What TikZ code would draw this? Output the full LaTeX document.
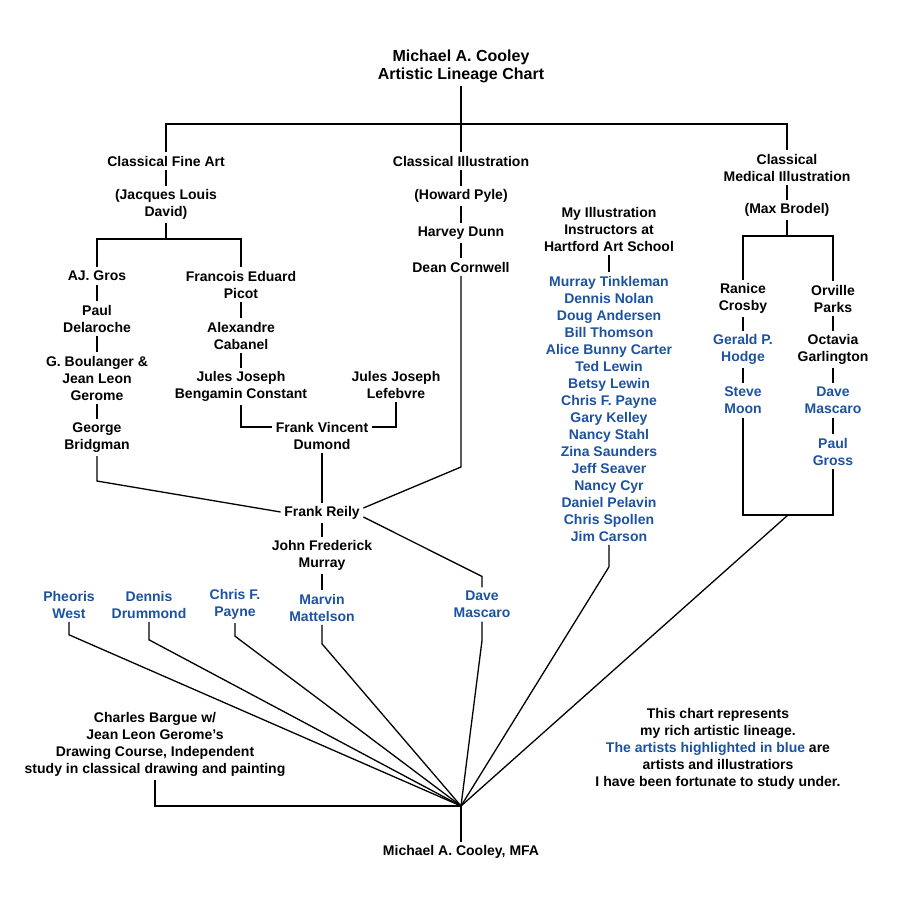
\documentclass[tikz,border=0pt]{standalone}
\usepackage{fontspec}
\setmainfont{Liberation Sans}
\definecolor{lineageblue}{RGB}{28,82,160}
\begin{document}
\begin{tikzpicture}[x=1pt,y=-1pt,line width=1.3pt,
  every node/.style={font=\fontsize{14}{17}\selectfont\bfseries,align=center,inner sep=3pt},
  taught/.style={text=lineageblue}]
  \useasboundingbox (0,0) rectangle (900,900);
  % title and the three branches
  \node[font=\fontsize{16}{18}\selectfont\bfseries] (title) at (461,66) {Michael A. Cooley\\Artistic Lineage Chart};
  \node (cfa) at (166,161) {Classical Fine Art};
  \node (ci) at (461,161) {Classical Illustration};
  \node (cmi) at (787,167.5) {Classical\\Medical Illustration};
  \coordinate (top) at (461,124);
  \draw (title) -- (ci);
  \draw (cfa.north) |- (top) -| (cmi.north);
  % fine art
  \node (jld) at (166,204.5) {(Jacques Louis\\David)};
  \node (gros) at (97,276) {AJ. Gros};
  \node (picot) at (241,284.5) {Francois Eduard\\Picot};
  \node (delaroche) at (97,318.5) {Paul\\Delaroche};
  \node (cabanel) at (241,335.5) {Alexandre\\Cabanel};
  \node (boul) at (97,378) {G. Boulanger \&\\Jean Leon\\Gerome};
  \node (bc) at (241,386.5) {Jules Joseph\\Bengamin Constant};
  \node (bridg) at (97,437.5) {George\\Bridgman};
  \node (lef) at (396,384.5) {Jules Joseph\\Lefebvre};
  \node (fvd) at (322,435.5) {Frank Vincent\\Dumond};
  \coordinate (jldfork) at (166,239);
  \draw (cfa) -- (jld);
  \draw (jld) -- (jldfork);
  \draw (gros.north) |- (jldfork) -| (picot.north);
  \draw (gros) -- (delaroche);
  \draw (delaroche) -- (boul);
  \draw (boul) -- (bridg);
  \draw (picot) -- (cabanel);
  \draw (cabanel) -- (bc);
  \draw (bc.south) |- ([yshift=8.5pt]fvd.west);
  \draw ([yshift=8.5pt]fvd.east) -| (lef.south);
  % illustration
  \node (hp) at (461,196) {(Howard Pyle)};
  \node (hd) at (461,233) {Harvey Dunn};
  \node (dean) at (461,267) {Dean Cornwell};
  \draw (ci) -- (hp);
  \draw (hp) -- (hd);
  \draw (hd) -- (dean);
  % Frank Reily and his students
  \node (reily) at (322,513) {Frank Reily};
  \node (jfm) at (322,555.5) {John Frederick\\Murray};
  \node[taught] (mm) at (322,607.5) {Marvin\\Mattelson};
  \node[taught] (pw) at (69,604.5) {Pheoris\\West};
  \node[taught] (dd) at (149,604.5) {Dennis\\Drummond};
  \node[taught] (cfp) at (235,604.5) {Chris F.\\Payne};
  \node[taught] (dmasc) at (482,604.5) {Dave\\Mascaro};
  \draw (fvd) -- (reily);
  \draw (bridg.south) -- ++(0,25) -- ([yshift=1pt]reily.west);
  \draw (dean.south) -- (461,467) -- ([yshift=5pt]reily.east);
  \draw ([yshift=-4pt]reily.east) -- ([yshift=11pt]dmasc.north) -- (dmasc.north);
  \draw (reily) -- (jfm);
  \draw (jfm) -- (mm);
  % Hartford Art School
  \node (hart) at (609,229) {My Illustration\\Instructors at\\Hartford Art School};
  \node[taught] (instr) at (609,408.5) {Murray Tinkleman\\Dennis Nolan\\Doug Andersen\\Bill Thomson\\Alice Bunny Carter\\Ted Lewin\\Betsy Lewin\\Chris F. Payne\\Gary Kelley\\Nancy Stahl\\Zina Saunders\\Jeff Seaver\\Nancy Cyr\\Daniel Pelavin\\Chris Spollen\\Jim Carson};
  \draw (hart) -- (instr);
  % medical illustration
  \node (brodel) at (787,210) {(Max Brodel)};
  \node (ranice) at (743,298.5) {Ranice\\Crosby};
  \node[taught] (gerald) at (743,349.5) {Gerald P.\\Hodge};
  \node[taught] (moon) at (743,400.5) {Steve\\Moon};
  \node (orville) at (833,298.5) {Orville\\Parks};
  \node (octavia) at (833,349.5) {Octavia\\Garlington};
  \node[taught] (dmasc2) at (833,400.5) {Dave\\Mascaro};
  \node[taught] (gross) at (833,451.5) {Paul\\Gross};
  \coordinate (brfork) at (787,236);
  \coordinate (medjoin) at (788,515);
  \draw (cmi) -- (brodel);
  \draw (brodel) -- (brfork);
  \draw (ranice.north) |- (brfork) -| (orville.north);
  \draw (ranice) -- (gerald);
  \draw (gerald) -- (moon);
  \draw (orville) -- (octavia);
  \draw (octavia) -- (dmasc2);
  \draw (dmasc2) -- (gross);
  \draw (moon.south) |- (medjoin) -| (gross.south);
  % bottom
  \node (bargue) at (155,744.5) {Charles Bargue w/\\Jean Leon Gerome’s\\Drawing Course, Independent\\study in classical drawing and painting};
  \node (note) at (718,749) {This chart represents\\my rich artistic lineage.\\{\color{lineageblue}The artists highlighted in blue} are\\artists and illustratiors\\I have been fortunate to study under.};
  \node (mfa) at (461,852) {Michael A. Cooley, MFA};
  \coordinate (hub) at (461,806);
  \draw (pw.south) -- ++(0,13) -- (hub);
  \draw (dd.south) -- ++(0,18) -- (hub);
  \draw (cfp.south) -- ++(0,13) -- (hub);
  \draw (mm.south) -- ++(0,19) -- (hub);
  \draw (dmasc.south) -- ++(0,19) -- (hub);
  \draw (instr.south) -- ++(0,22) -- (hub);
  \draw (medjoin) -- (hub);
  \draw (bargue.south) |- (hub);
  \draw (hub) -- (mfa);
\end{tikzpicture}
\end{document}
